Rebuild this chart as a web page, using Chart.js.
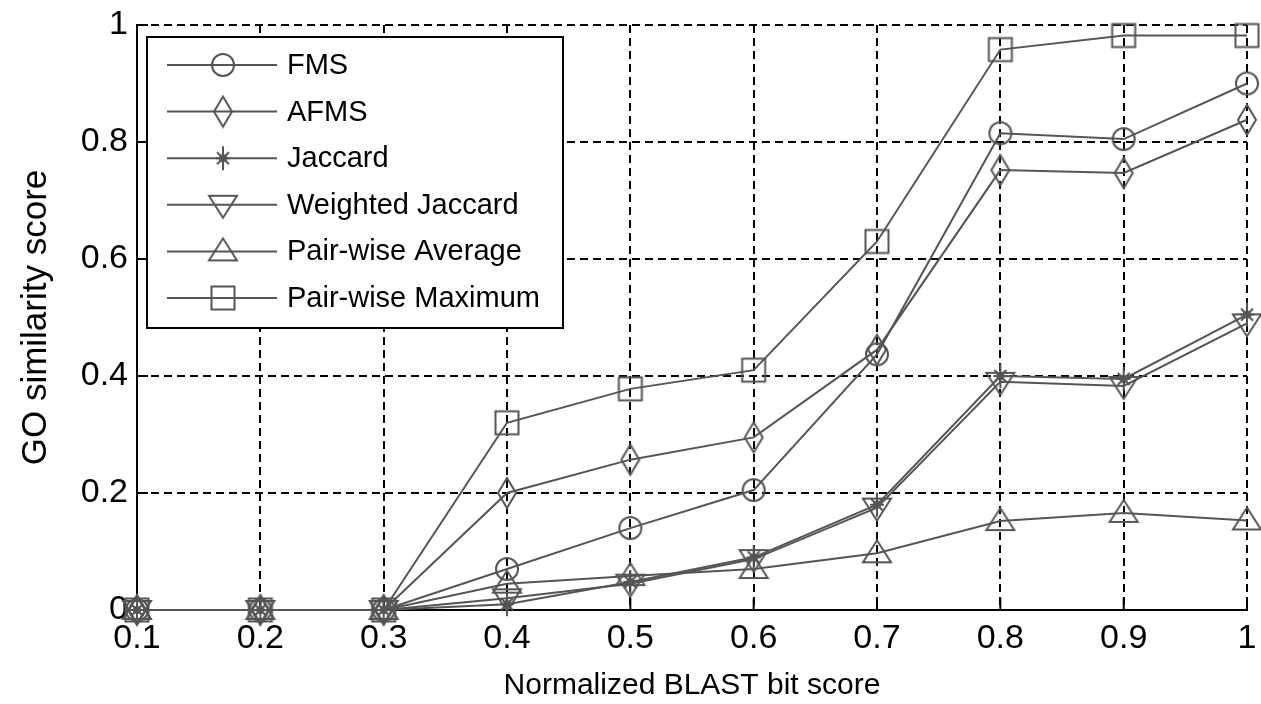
<!DOCTYPE html>
<html>
<head>
<meta charset="utf-8">
<script src="https://cdn.jsdelivr.net/npm/chart.js@4.4.1/dist/chart.umd.min.js"></script>
<style>
  html, body { margin: 0; padding: 0; background: #fff; }
</style>
</head>
<body>
<canvas id="chart" width="1261" height="704"></canvas>
<script>
// values
const blastScores = [0.1, 0.2, 0.3, 0.4, 0.5, 0.6, 0.7, 0.8, 0.9, 1.0];
const fms      = [0, 0, 0, 0.07, 0.14, 0.205, 0.437, 0.815, 0.805, 0.9];
const afms     = [0, 0, 0, 0.2, 0.257, 0.295, 0.445, 0.752, 0.747, 0.838];
const jaccard  = [0, 0, 0, 0.01, 0.048, 0.09, 0.18, 0.4, 0.395, 0.505];
const wJaccard = [0, 0, 0, 0.02, 0.045, 0.087, 0.175, 0.39, 0.383, 0.49];
const pairAvg  = [0, 0, 0, 0.045, 0.058, 0.07, 0.097, 0.152, 0.166, 0.153];
const pairMax  = [0, 0, 0, 0.32, 0.378, 0.41, 0.63, 0.958, 0.982, 0.982];
const seriesNames = ['FMS', 'AFMS', 'Jaccard', 'Weighted Jaccard', 'Pair-wise Average', 'Pair-wise Maximum'];
const yTicks = [0, 0.2, 0.4, 0.6, 0.8, 1];

const lineColor = '#555555';
const fontStack = '"Liberation Sans", Arial, sans-serif';

// matlab-like hollow markers drawn on small canvases
function makeMarker(kind) {
  const s = 34, c = s / 2;
  const cv = document.createElement('canvas');
  cv.width = s; cv.height = s;
  const ctx = cv.getContext('2d');
  ctx.strokeStyle = lineColor;
  ctx.lineWidth = 2;
  ctx.beginPath();
  if (kind === 'circle') {
    ctx.arc(c, c, 11, 0, Math.PI * 2);
  } else if (kind === 'diamond') {
    ctx.moveTo(c, c - 15); ctx.lineTo(c + 9, c); ctx.lineTo(c, c + 15); ctx.lineTo(c - 9, c); ctx.closePath();
  } else if (kind === 'star') {
    ctx.moveTo(c, c - 12); ctx.lineTo(c, c + 12);
    ctx.moveTo(c - 7, c); ctx.lineTo(c + 7, c);
    ctx.moveTo(c - 6, c - 6); ctx.lineTo(c + 6, c + 6);
    ctx.moveTo(c - 6, c + 6); ctx.lineTo(c + 6, c - 6);
    ctx.stroke();
    ctx.beginPath();
    ctx.fillStyle = lineColor;
    ctx.arc(c, c, 4, 0, Math.PI * 2);
    ctx.fill();
    return cv;
  } else if (kind === 'down') {
    ctx.moveTo(c - 14, c - 9); ctx.lineTo(c + 14, c - 9); ctx.lineTo(c, c + 13); ctx.closePath();
  } else if (kind === 'up') {
    ctx.moveTo(c - 14, c + 9); ctx.lineTo(c + 14, c + 9); ctx.lineTo(c, c - 13); ctx.closePath();
  } else if (kind === 'square') {
    ctx.rect(c - 11.5, c - 11.5, 23, 23);
  }
  ctx.stroke();
  return cv;
}

const markers = ['circle', 'diamond', 'star', 'down', 'up', 'square'].map(makeMarker);
const seriesValues = [fms, afms, jaccard, wJaccard, pairAvg, pairMax];

const datasets = seriesValues.map((vals, i) => ({
  label: seriesNames[i],
  data: blastScores.map((x, j) => ({ x: x, y: vals[j] })),
  borderColor: lineColor,
  borderWidth: 2,
  backgroundColor: 'transparent',
  pointStyle: markers[i],
  pointRadius: 12,
  pointHoverRadius: 12,
  tension: 0,
  clip: false
}));

// inward tick marks + boxed legend in the upper-left corner
const extras = {
  id: 'extras',
  beforeDatasetsDraw(chart) {
    const ctx = chart.ctx, xs = chart.scales.x, ys = chart.scales.y;
    const area = chart.chartArea;
    ctx.save();
    ctx.strokeStyle = '#000';
    ctx.lineWidth = 2;
    ctx.beginPath();
    yTicks.forEach(v => {
      const py = ys.getPixelForValue(v);
      ctx.moveTo(area.left, py); ctx.lineTo(area.left + 11, py);
    });
    blastScores.forEach(v => {
      const px = xs.getPixelForValue(v);
      ctx.moveTo(px, area.bottom); ctx.lineTo(px, area.bottom - 12);
    });
    ctx.stroke();
    ctx.restore();
  },
  afterDraw(chart) {
    const ctx = chart.ctx;
    const bx = 147, by = 37, bw = 416, bh = 291;
    ctx.save();
    ctx.fillStyle = '#fff';
    ctx.fillRect(bx, by, bw, bh);
    ctx.strokeStyle = '#000';
    ctx.lineWidth = 2;
    ctx.strokeRect(bx, by, bw, bh);
    ctx.font = '29px ' + fontStack;
    ctx.textBaseline = 'middle';
    ctx.textAlign = 'left';
    seriesNames.forEach((name, i) => {
      const y = 65 + i * 46.6;
      ctx.strokeStyle = lineColor;
      ctx.beginPath();
      ctx.moveTo(167, y); ctx.lineTo(277, y);
      ctx.stroke();
      ctx.drawImage(markers[i], 223 - markers[i].width / 2, y - markers[i].height / 2);
      ctx.fillStyle = '#000';
      ctx.fillText(name, 287, y + 1);
    });
    ctx.restore();
  }
};

new Chart(document.getElementById('chart'), {
  type: 'line',
  data: { datasets: datasets },
  options: {
    responsive: false,
    animation: false,
    devicePixelRatio: 1,
    layout: { padding: { top: 25, right: 13, left: 0, bottom: 0 } },
    plugins: { legend: { display: false }, tooltip: { enabled: false } },
    scales: {
      x: {
        type: 'linear',
        min: 0.1,
        max: 1,
        afterBuildTicks(scale) { scale.ticks = blastScores.map(v => ({ value: v })); },
        afterFit(scale) {
          scale.height = 94;
          scale.paddingLeft = 0;
          scale.paddingRight = 0;
        },
        grid: { color: '#000', lineWidth: 2, drawTicks: false },
        border: { display: true, color: '#000', width: 2, dash: [8, 5] },
        ticks: {
          color: '#000',
          padding: 8,
          font: { family: fontStack, size: 34 },
          callback: v => String(Number(v.toFixed(1)))
        },
        title: {
          display: true,
          text: 'Normalized BLAST bit score',
          color: '#000',
          font: { family: fontStack, size: 30 },
          padding: 0
        }
      },
      y: {
        min: 0,
        max: 1,
        afterBuildTicks(scale) { scale.ticks = yTicks.map(v => ({ value: v })); },
        afterFit(scale) {
          scale.width = 137;
          scale.paddingTop = 0;
          scale.paddingBottom = 0;
        },
        grid: { color: '#000', lineWidth: 2, drawTicks: false },
        border: { display: true, color: '#000', width: 2, dash: [8, 5] },
        ticks: {
          color: '#000',
          padding: 9,
          font: { family: fontStack, size: 34 },
          callback: v => String(Number(v.toFixed(1)))
        },
        title: {
          display: true,
          text: 'GO similarity score',
          color: '#000',
          font: { family: fontStack, size: 35 },
          padding: { top: 15, bottom: 0 }
        }
      }
    }
  },
  plugins: [extras]
});
</script>
</body>
</html>
